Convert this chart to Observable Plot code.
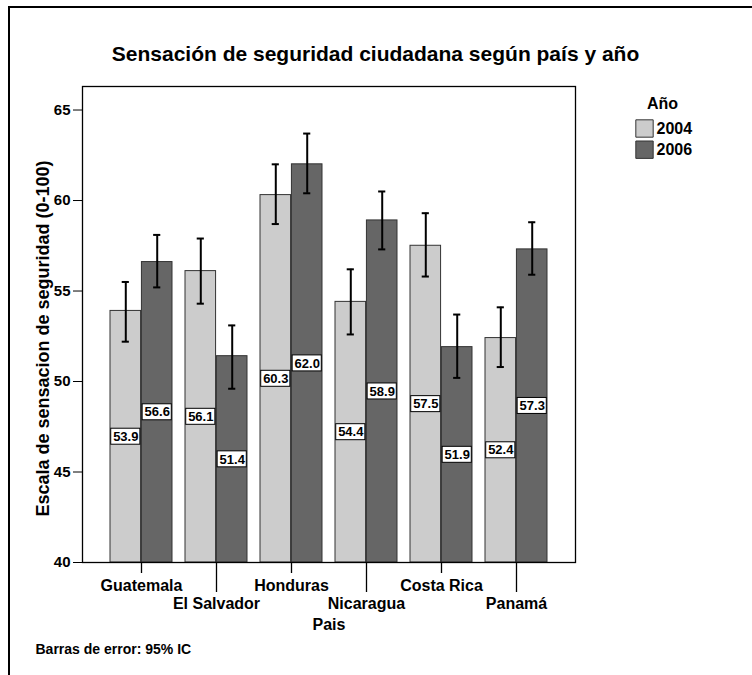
<!DOCTYPE html>
<html><head><meta charset="utf-8">
<script src="https://cdn.jsdelivr.net/npm/d3@7"></script>
<script src="https://cdn.jsdelivr.net/npm/@observablehq/plot@0.6"></script>
<style>body{margin:0;background:#fff} svg{display:block}</style>
</head><body><div id="chart"></div>
<script>
const countries = ["Guatemala","El Salvador","Honduras","Nicaragua","Costa Rica","Panamá"];
const years = ["2004","2006"];
const mean2004 = [53.9,56.1,60.3,54.4,57.5,52.4];
const mean2006 = [56.6,51.4,62.0,58.9,51.9,57.3];
const lo2004 = [52.2,54.3,58.7,52.6,55.8,50.8];
const hi2004 = [55.5,57.9,62.0,56.2,59.3,54.1];
const lo2006 = [55.2,49.6,60.4,57.3,50.2,55.9];
const hi2006 = [58.1,53.1,63.7,60.5,53.7,58.8];
const yTicks = [40,45,50,55,60,65];
const title = "Sensación de seguridad ciudadana según país y año";
const yLabel = "Escala de sensacion de seguridad (0-100)";
const xLabel = "Pais";
const legendTitle = "Año";
const footnote = "Barras de error: 95% IC";
const colors = ["#cccccc","#666666"];

const W = 752, H = 675;
const mL = 82, mR = 177, mT = 86, mB = 113;
const pI = 0.173, pO = 0.33;
const xs = Plot.scale({x:{type:"band", domain:countries, range:[mL, W-mR], paddingInner:pI, paddingOuter:pO}});
const bw = xs.bandwidth ?? ((W-mL-mR)/(countries.length - pI + 2*pO))*(1-pI);
const base = yTicks[0];

const rows = [];
countries.forEach((c,i)=>{
  rows.push({country:c, year:"2004", mean:mean2004[i], lo:lo2004[i], hi:hi2004[i]});
  rows.push({country:c, year:"2006", mean:mean2006[i], lo:lo2006[i], hi:hi2006[i]});
});
const r04 = rows.filter(d=>d.year==="2004");
const r06 = rows.filter(d=>d.year==="2006");
const mid = d => (base + d.mean)/2;
const boxW = 30, capW = 8;
const font = "'Liberation Sans', Arial, sans-serif";

function groupMarks(data, k) {
  const off = k===0 ? -bw/4 : bw/4;
  const c = k===0 ? bw/4 : 3*bw/4;
  return [
    Plot.barY(data, {x:"country", y1: base, y2:"mean", fill:"year", stroke:"#333", strokeWidth:1,
      insetLeft: k===0 ? 0 : bw/2, insetRight: k===0 ? bw/2 : 0}),
    Plot.barY(data, {x:"country", y1: mid, y2: mid, fill:"white", stroke:"#000", strokeWidth:1,
      insetTop:-8, insetBottom:-8, insetLeft: c - boxW/2, insetRight: bw - c - boxW/2}),
    Plot.text(data, {x:"country", y: mid, text: d=>d.mean.toFixed(1), dx: off, fontSize:13, fontWeight:"bold", fill:"#000"}),
    Plot.ruleX(data, {x:"country", y1:"lo", y2:"hi", dx: off, stroke:"#000", strokeWidth:2}),
    Plot.tickY(data, {x:"country", y:"lo", stroke:"#000", strokeWidth:2, insetLeft: c - capW/2, insetRight: bw - c - capW/2}),
    Plot.tickY(data, {x:"country", y:"hi", stroke:"#000", strokeWidth:2, insetLeft: c - capW/2, insetRight: bw - c - capW/2})
  ];
}

const even = countries.filter((d,i)=>i%2===0);
const odd = countries.filter((d,i)=>i%2===1);
const txt = {fontWeight:"bold", fill:"#000", lineAnchor:"middle"};

const legendMarks = years.flatMap((yr,i)=>[
  Plot.dot([yr], {frameAnchor:"top-right", dx: 69, dy: 42 + i*21.2, symbol:"square", r: 9.8, fill: d=>d, stroke:"#333", strokeWidth:1}),
  Plot.text([yr], {...txt, frameAnchor:"top-right", dx: 81, dy: 42 + i*21.2, text: d=>d, textAnchor:"start", fontSize:16})
]);

const chart = Plot.plot({
  width: W, height: H,
  marginLeft: mL, marginRight: mR, marginTop: mT, marginBottom: mB,
  style: {fontFamily: font, fontSize: "15px", fontWeight: "bold", color: "#000", background: "#fff"},
  x: {type:"band", domain: countries, paddingInner: pI, paddingOuter: pO, axis: null},
  y: {domain: [40, 66.3], ticks: yTicks, tickSize: 9, tickPadding: 3, label: null, tickFormat: d => String(d)},
  color: {domain: years, range: colors},
  marks: [
    ...groupMarks(r04, 0),
    ...groupMarks(r06, 1),
    Plot.frame({stroke:"#000", strokeWidth:1.3}),
    Plot.ruleX(even, {x: d=>d, y1: base, y2: base, insetBottom: -11, stroke:"#000", strokeWidth:1.3}),
    Plot.ruleX(odd, {x: d=>d, y1: base, y2: base, insetBottom: -30, stroke:"#000", strokeWidth:1.3}),
    Plot.text(even, {...txt, x: d=>d, frameAnchor:"bottom", dy: 23, text: d=>d, fontSize:16}),
    Plot.text(odd, {...txt, x: d=>d, frameAnchor:"bottom", dy: 41, text: d=>d, fontSize:16}),
    Plot.text([xLabel], {...txt, frameAnchor:"bottom", dy: 62, text: d=>d, fontSize:16}),
    Plot.text([footnote], {...txt, frameAnchor:"bottom-left", dx: -47, dy: 87, text: d=>d, textAnchor:"start", fontSize:14}),
    Plot.text([yLabel], {...txt, frameAnchor:"left", textAnchor:"middle", dx: -39, dy: 14, rotate: -90, text: d=>d, fontSize:18}),
    Plot.text([title], {...txt, frameAnchor:"top", dx: 375 - (mL + (W-mR))/2, dy: -32, text: d=>d, fontSize:21}),
    Plot.text([legendTitle], {...txt, frameAnchor:"top-right", textAnchor:"middle", dx: 87, dy: 17, text: d=>d, fontSize:16}),
    ...legendMarks
  ]
});
d3.select(chart).append("path").attr("d", `M9,${H}V7H${W}`).attr("fill","none").attr("stroke","#000").attr("stroke-width",2);
document.getElementById("chart").appendChild(chart);
</script>
</body></html>
